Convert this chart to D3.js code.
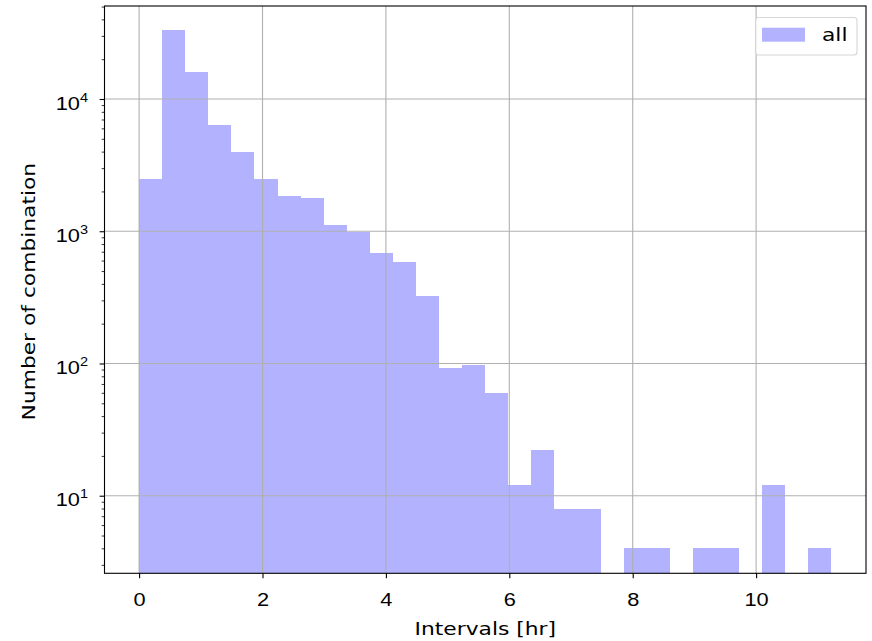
<!DOCTYPE html>
<html>
<head>
<meta charset="utf-8">
<script src="https://cdn.jsdelivr.net/npm/d3@7"></script>
<style>
  html, body { margin: 0; padding: 0; background: #fff; }
  svg { display: block; font-family: "DejaVu Sans", sans-serif; }
</style>
</head>
<body>
<svg id="chart" width="872" height="641"></svg>
<script>
// ---- data ----
const binWidth = 0.374;          // hr
const binCounts = [2500, 33000, 16000, 6400, 3950, 2500, 1860, 1770, 1120, 990,
                   680, 585, 326, 93, 98, 60, 12, 22, 8, 8,
                   0, 4, 4, 0, 4, 4, 0, 12, 0, 4];
const xTicks = [0, 2, 4, 6, 8, 10];
const yTickExps = [1, 2, 3, 4];
const seriesName = "all";
const xLabel = "Intervals [hr]";
const yLabel = "Number of combination";

// ---- layout ----
const svg = d3.select("#chart");
const L = 104.5, R = 866, T = 6, B = 573.3;
const FS = 18.3, SX = 1.19;      // font size and horizontal glyph stretch
const nBins = binCounts.length;
const xMax = nBins * binWidth;
const pad = xMax * 0.05;
const x = d3.scaleLinear().domain([-pad, xMax + pad]).range([L, R]);
const y = d3.scaleLog().domain([2.59, 50500]).range([B, T]);

const barColor = "#b2b2ff";
const gridColor = "#b0b0b0";

function label(parent, px, py, rot, anchor) {
  return parent.append("g")
    .attr("transform", `translate(${px},${py}) rotate(${rot}) scale(${SX},1)`)
    .append("text").attr("text-anchor", anchor).attr("font-size", FS).attr("fill", "#000");
}

const bins = binCounts.map((c, i) => ({x0: i * binWidth, x1: (i + 1) * binWidth, c}));

// bars
svg.append("g").selectAll("rect")
  .data(bins.filter(d => d.c > 0))
  .join("rect")
  .attr("x", d => x(d.x0))
  .attr("width", d => x(d.x1) - x(d.x0))
  .attr("y", d => y(d.c))
  .attr("height", d => B - y(d.c))
  .attr("fill", barColor)
  .attr("shape-rendering", "crispEdges");

// grid
const grid = svg.append("g").attr("stroke", gridColor).attr("stroke-width", 1.1);
xTicks.forEach(t => grid.append("line")
  .attr("x1", x(t)).attr("x2", x(t)).attr("y1", T).attr("y2", B));
yTickExps.forEach(e => grid.append("line")
  .attr("x1", L).attr("x2", R).attr("y1", y(Math.pow(10, e))).attr("y2", y(Math.pow(10, e))));

// x axis
const gx = svg.append("g").attr("transform", `translate(0,${B})`)
  .call(d3.axisBottom(x).tickValues(xTicks).tickSize(4.9).tickFormat(""));
gx.select(".domain").remove();
gx.selectAll(".tick line").attr("stroke", "#000").attr("stroke-width", 1.1);
gx.selectAll(".tick").each(function(d) {
  label(d3.select(this), 0, 32.2, 0, "middle").text(String(d));
});

// y axis (major + minor)
const minorTicks = [];
for (let e = 0; e <= 4; e++) for (let m = 2; m <= 9; m++) {
  const v = m * Math.pow(10, e);
  if (v >= y.domain()[0] && v <= y.domain()[1]) minorTicks.push(v);
}
const gyMinor = svg.append("g").attr("transform", `translate(${L},0)`)
  .call(d3.axisLeft(y).tickValues(minorTicks).tickSize(2.8).tickFormat(""));
gyMinor.select(".domain").remove();
gyMinor.selectAll(".tick line").attr("stroke", "#000").attr("stroke-width", 0.8);

const gy = svg.append("g").attr("transform", `translate(${L},0)`)
  .call(d3.axisLeft(y).tickValues(yTickExps.map(e => Math.pow(10, e))).tickSize(4.9).tickFormat(""));
gy.select(".domain").remove();
gy.selectAll(".tick line").attr("stroke", "#000").attr("stroke-width", 1.1);
gy.selectAll(".tick").each(function(d) {
  const e = Math.round(Math.log10(d));
  const t = label(d3.select(this), -16.5, 10, 0, "end");
  t.append("tspan").text("10");
  t.append("tspan").attr("font-size", 12.2).attr("dy", -8).text(String(e));
});

// frame
svg.append("rect").attr("x", L).attr("y", T).attr("width", R - L).attr("height", B - T)
  .attr("fill", "none").attr("stroke", "#000").attr("stroke-width", 1.1);

// axis titles
label(svg, (L + R) / 2, 635, 0, "middle").text(xLabel);
label(svg, 35, (T + B) / 2 + 2, -90, "middle").text(yLabel);

// legend
const lg = svg.append("g");
lg.append("rect").attr("x", 755.5).attr("y", 17.5).attr("width", 101.5).attr("height", 37.5)
  .attr("rx", 3).attr("fill", "#fff").attr("fill-opacity", 0.8)
  .attr("stroke", "#d6d6d6").attr("stroke-width", 1.1);
lg.append("rect").attr("x", 762).attr("y", 27.7).attr("width", 43).attr("height", 14)
  .attr("fill", barColor);
label(lg, 822, 40.5, 0, "start").text(seriesName);
</script>
</body>
</html>
